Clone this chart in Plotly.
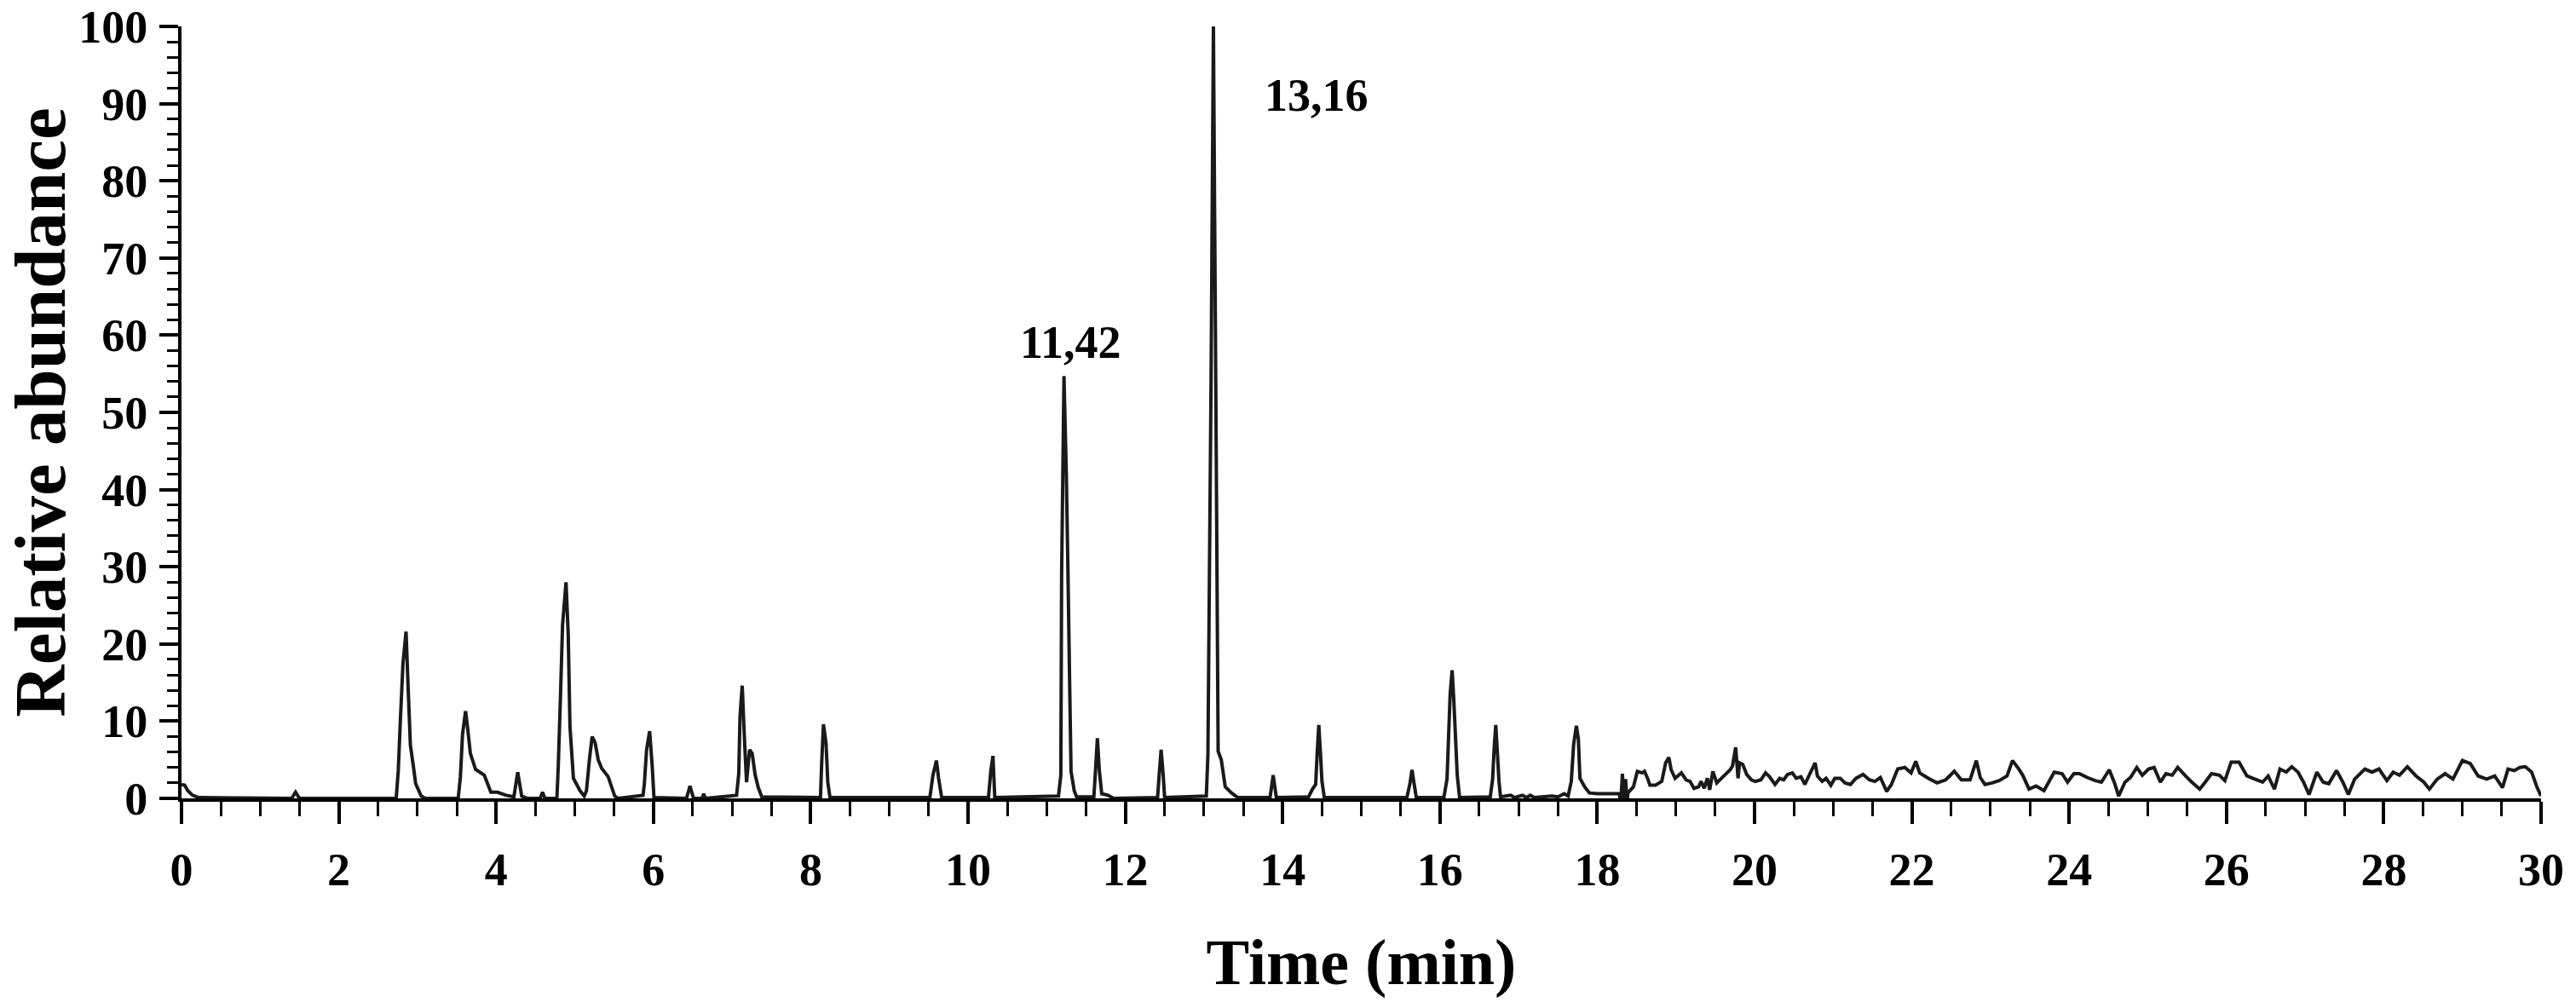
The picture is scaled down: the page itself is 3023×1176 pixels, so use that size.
import plotly.graph_objects as go

# ---- Data (time in min, relative abundance in %) ----
peak_time = [
    0.00, 0.04, 0.08, 0.14, 0.22, 1.40, 1.45, 1.50,
    2.73, 2.756, 2.784, 2.816, 2.855, 2.882, 2.91, 2.949, 2.977, 3.048, 3.10,
    3.518, 3.546, 3.573, 3.612, 3.64, 3.673, 3.739, 3.85, 3.933, 4.016, 4.127,
    4.226, 4.275, 4.325, 4.40, 4.56, 4.59, 4.62,
    4.773, 4.79, 4.818, 4.845, 4.889, 4.917, 4.939, 4.983, 5.066, 5.12,
    5.149, 5.188, 5.221, 5.259, 5.298, 5.342, 5.425, 5.508, 5.55,
    5.868, 5.885, 5.913, 5.952, 5.985, 6.007,
    6.42, 6.465, 6.51, 6.62, 6.64, 6.66,
    7.057, 7.085, 7.101, 7.129, 7.157, 7.184, 7.223, 7.256, 7.294, 7.333, 7.377,
    8.124, 8.14, 8.162, 8.195, 8.217, 8.245,
    9.515, 9.554, 9.598, 9.626, 9.665,
    10.26, 10.29, 10.317, 10.34,
    11.15, 11.18, 11.19, 11.22, 11.25, 11.27, 11.29, 11.31, 11.35, 11.38,
    11.60, 11.62, 11.645, 11.67, 11.70, 11.78, 11.85,
    12.41, 12.43, 12.455, 12.48, 12.50,
    13.03, 13.05, 13.07, 13.09, 13.12, 13.135, 13.15, 13.165, 13.18, 13.22,
    13.27, 13.35, 13.43,
    13.84, 13.88, 13.92,
    14.33, 14.38, 14.42, 14.44, 14.46, 14.48, 14.50, 14.53,
    15.58, 15.62, 15.645, 15.67, 15.70,
    16.05, 16.09, 16.11, 16.13, 16.155, 16.175, 16.20, 16.22, 16.25,
    16.64, 16.67, 16.69, 16.71, 16.73, 16.75, 16.77,
    16.90, 16.95, 17.05, 17.10, 17.15, 17.20, 17.42, 17.50, 17.58, 17.63,
    17.67, 17.70, 17.735, 17.76, 17.78, 17.84, 17.90, 18.00, 18.28,
    18.30, 18.32, 18.34, 18.36, 18.38,
]
peak_abund = [
    1.8, 1.7, 1.0, 0.4, 0.1, 0.0, 0.8, 0.0,
    0.0, 3.6, 10.4, 17.5, 21.6, 14.2, 6.9, 4.1, 1.9, 0.3, 0.0,
    0.0, 2.8, 8.3, 11.3, 8.9, 5.8, 3.75, 3.0, 0.8, 0.8, 0.4,
    0.2, 3.4, 0.3, 0.0, 0.0, 0.8, 0.0,
    0.0, 4.1, 13.1, 22.5, 28.0, 21.2, 9.3, 2.6, 1.0, 0.3,
    1.0, 5.2, 8.0, 7.2, 5.0, 3.9, 2.8, 0.3, 0.0,
    0.4, 1.9, 6.3, 8.7, 4.1, 0.1,
    0.0, 1.6, 0.0, 0.0, 0.6, 0.0,
    0.4, 3.2, 10.6, 14.6, 7.8, 2.1, 6.3, 5.8, 3.0, 1.4, 0.2,
    0.1, 4.7, 9.6, 7.1, 2.1, 0.1,
    0.1, 3.0, 4.9, 2.6, 0.1,
    0.1, 3.6, 5.5, 0.1,
    0.3, 3.0, 29.0, 54.7, 41.9, 29.7, 16.2, 3.5, 1.0, 0.2,
    0.2, 3.5, 7.8, 3.5, 0.6, 0.4, 0.0,
    0.1, 3.0, 6.3, 3.2, 0.1,
    0.3, 5.7, 30.0, 54.0, 100.0, 76.4, 54.0, 30.0, 6.1, 5.0,
    1.5, 0.7, 0.1,
    0.1, 3.0, 0.1,
    0.2, 1.2, 1.8, 6.0, 9.5, 6.0, 2.2, 0.1,
    0.1, 2.0, 3.7, 2.0, 0.1,
    0.1, 2.5, 8.0, 13.5, 16.6, 13.0, 7.5, 3.0, 0.1,
    0.2, 2.5, 6.6, 9.5, 6.0, 2.3, 0.2,
    0.4, 0.1, 0.4, 0.1, 0.4, 0.1, 0.3, 0.2, 0.6, 0.3,
    2.2, 7.0, 9.4, 7.7, 2.6, 1.5, 0.7, 0.6, 0.6,
    -0.5, 3.2, -0.3, 2.5, -0.5,
]

noise_time = [
    18.39, 18.46, 18.51, 18.57, 18.60, 18.64, 18.67, 18.74, 18.82, 18.87,
    18.91, 18.94, 18.99, 19.07, 19.13, 19.18, 19.23, 19.29, 19.32, 19.36,
    19.40, 19.43, 19.47, 19.52, 19.58, 19.63, 19.69, 19.72, 19.76, 19.79,
    19.81, 19.85, 19.90, 19.96, 20.01, 20.08, 20.14, 20.19, 20.26, 20.32,
    20.37, 20.42, 20.48, 20.53, 20.59, 20.64, 20.69, 20.77, 20.80, 20.86,
    20.91, 20.97, 21.02, 21.09, 21.15, 21.22, 21.29, 21.38, 21.46, 21.53,
    21.60, 21.68, 21.74, 21.82, 21.91, 21.99, 22.05, 22.10, 22.21, 22.32,
    22.43, 22.54, 22.63, 22.74, 22.82, 22.87, 22.93, 23.02, 23.11, 23.21,
    23.28, 23.36, 23.41, 23.49, 23.58, 23.68, 23.81, 23.91, 23.98, 24.06,
    24.13, 24.23, 24.33, 24.41, 24.51, 24.58, 24.63, 24.71, 24.78, 24.86,
    24.93, 25.01, 25.08, 25.16, 25.23, 25.31, 25.38, 25.48, 25.56, 25.66,
    25.73, 25.81, 25.91, 25.98, 26.06, 26.16, 26.26, 26.36, 26.46, 26.53,
    26.61, 26.68, 26.76, 26.83, 26.91, 26.98, 27.05, 27.15, 27.23, 27.30,
    27.40, 27.48, 27.55, 27.63, 27.76, 27.85, 27.94, 28.04, 28.12, 28.20,
    28.30, 28.41, 28.51, 28.58, 28.68, 28.78, 28.88, 29.00, 29.10, 29.20,
    29.31, 29.41, 29.51, 29.58, 29.66, 29.73, 29.80, 29.88, 29.95, 30.00,
]
noise_abund = [
    0.7, 1.5, 3.5, 3.3, 3.5, 2.6, 1.7, 1.7, 2.2, 4.6,
    5.3, 3.7, 2.6, 3.3, 2.4, 2.2, 1.3, 1.5, 2.2, 1.3,
    2.6, 1.1, 3.5, 2.0, 2.6, 3.1, 3.7, 4.2, 6.6, 2.6,
    4.6, 4.4, 3.1, 2.4, 2.2, 2.4, 3.3, 2.8, 1.8, 2.6,
    2.4, 3.1, 3.3, 2.6, 2.8, 1.8, 2.9, 4.6, 2.9, 2.2,
    2.6, 1.7, 2.6, 2.6, 2.0, 1.8, 2.6, 3.1, 2.4, 2.2,
    2.7, 0.9, 1.8, 3.8, 4.0, 3.3, 4.8, 3.3, 2.6, 2.0,
    2.4, 3.5, 2.4, 2.4, 4.9, 2.7, 1.8, 2.0, 2.3, 2.9,
    4.9, 3.8, 3.0, 1.2, 1.6, 1.0, 3.4, 3.2, 2.1, 3.2,
    3.2, 2.7, 2.3, 2.1, 3.7, 1.9, 0.3, 2.1, 2.7, 4.0,
    3.0, 3.8, 4.0, 2.1, 3.2, 3.0, 4.0, 2.9, 2.1, 1.2,
    2.1, 3.2, 3.0, 2.3, 4.7, 4.7, 2.9, 2.5, 2.1, 2.9,
    1.2, 3.8, 3.4, 4.1, 3.4, 2.1, 0.5, 3.4, 2.1, 1.9,
    3.6, 2.1, 0.5, 2.5, 3.8, 3.4, 3.8, 2.3, 3.4, 3.0,
    4.1, 2.9, 2.1, 1.2, 2.5, 3.2, 2.5, 4.9, 4.5, 2.9,
    2.5, 2.9, 1.4, 3.8, 3.6, 4.0, 4.1, 3.4, 1.4, 0.3,
]

x_tick_vals = [0, 2, 4, 6, 8, 10, 12, 14, 16, 18, 20, 22, 24, 26, 28, 30]
y_tick_vals = [0, 10, 20, 30, 40, 50, 60, 70, 80, 90, 100]

label_texts = ["11,42", "13,16"]
label_x = [11.31, 14.43]
label_y = [59.0, 91.1]

# ---- Figure ----
SERIF = "Liberation Serif, Times New Roman, serif"

time_all = peak_time + noise_time
abund_all = peak_abund + noise_abund

fig = go.Figure()
fig.add_trace(go.Scatter(
    x=time_all, y=abund_all, mode="lines",
    line=dict(color="#1a1a1a", width=4, simplify=False),
    showlegend=False, hoverinfo="x+y",
))

for txt, lx, ly in zip(label_texts, label_x, label_y):
    fig.add_annotation(x=lx, y=ly, xref="x", yref="y", text=txt, showarrow=False,
                       font=dict(family=SERIF, size=54, color="black", weight="bold"),
                       xanchor="center", yanchor="middle")

# the page body margin is removed (post_script below), so the figure fills the window
fig.update_layout(
    width=3023, height=1176,
    margin=dict(l=213, r=41, t=31, b=239, autoexpand=False),
    paper_bgcolor="white", plot_bgcolor="white",
    font=dict(family=SERIF, color="black"),
)

fig.update_xaxes(
    range=[0, 30], tickmode="array", tickvals=x_tick_vals,
    showline=True, linecolor="black", linewidth=4,
    ticks="outside", ticklen=26, tickwidth=4, tickcolor="black",
    minor=dict(dtick=0.5, tick0=0, ticks="outside", ticklen=17, tickwidth=3, tickcolor="black"),
    showgrid=False, zeroline=False,
    tickfont=dict(family=SERIF, size=54, color="black", weight="bold"),
    ticklabelstandoff=7, ticklabeloverflow="allow",
    title=dict(text="Time (min)", standoff=53,
               font=dict(family=SERIF, size=76, color="black", weight="bold")),
)
fig.update_yaxes(
    range=[0, 100], tickmode="array", tickvals=y_tick_vals,
    showline=True, linecolor="black", linewidth=4,
    ticks="outside", ticklen=22, tickwidth=4, tickcolor="black",
    minor=dict(dtick=2, tick0=0, ticks="outside", ticklen=13, tickwidth=3, tickcolor="black"),
    showgrid=False, zeroline=False,
    tickfont=dict(family=SERIF, size=54, color="black", weight="bold"),
    ticklabelstandoff=3, ticklabeloverflow="allow",
    title=dict(text="Relative abundance", standoff=29,
               font=dict(family=SERIF, size=85, color="black", weight="bold")),
)

fig.write_html(
    "out.html",
    config={"displayModeBar": False},
    post_script="document.body.style.margin='0px';document.body.style.overflow='hidden';",
)
